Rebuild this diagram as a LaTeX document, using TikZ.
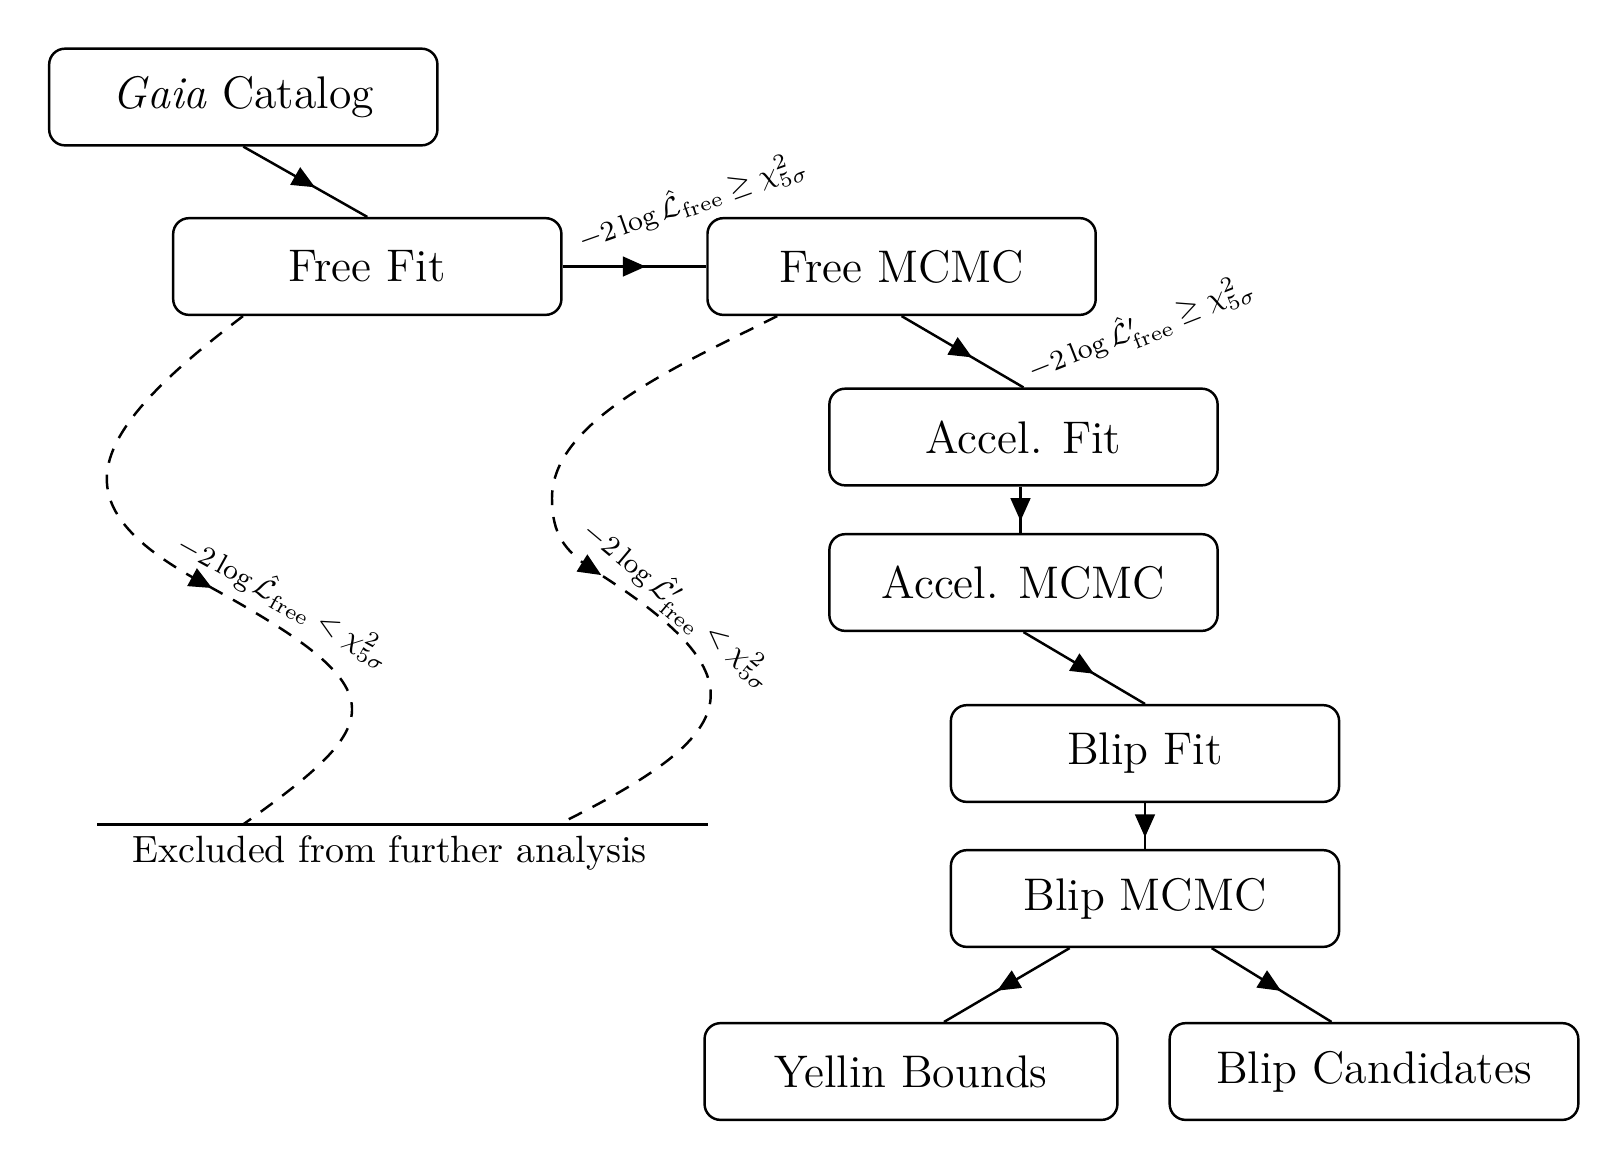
\documentclass[tikz,border=0pt]{standalone}
\usepackage{amsmath}
\usepackage{amssymb}
\usetikzlibrary{arrows.meta, calc, decorations.markings, positioning}

\tikzset{
  box/.style={draw, line width=0.7pt, rounded corners=4.5pt, minimum width=110.4pt,
    minimum height=27.5pt, inner sep=0pt, font=\fontsize{13}{15.5}\selectfont},
  midarrow/.style={postaction={decorate}, decoration={markings,
    mark=at position 0.5 with {\pgftransformxshift{3.2pt}\arrow{Triangle[length=6.5pt,width=5.6pt]}}}},
  edge/.style={line width=0.7pt, midarrow},
  cut/.style={edge, dash pattern=on 4.2pt off 3.4pt},
  cond/.style={font=\footnotesize, inner sep=1pt},
}

\begin{document}
\begin{tikzpicture}[x=0.01cm, y=-0.01cm]
  \useasboundingbox (0,0) rectangle (1620,1156);

  % pipeline boxes
  \node[box] (gaia) at (243.3,97) {\textit{Gaia} Catalog};
  \node[box] (freefit) at (367.3,266.5) {Free Fit};
  \node[box] (freemcmc) at (901.6,266.5) {Free MCMC};
  \node[box] (accelfit) at (1023.5,437) {Accel. Fit};
  \node[box] (accelmcmc) at (1023.5,582.5) {Accel. MCMC};
  \node[box] (blipfit) at (1145,753.5) {Blip Fit};
  \node[box] (blipmcmc) at (1145,898.5) {Blip MCMC};
  \node[box, minimum width=117.4pt] (yellin) at (911,1071.5) {Yellin Bounds};
  \node[box, minimum width=116.2pt] (blipcand) at (1374,1071.5) {Blip Candidates};

  % the cut line
  \coordinate (exL) at (97,824.5);
  \coordinate (exR) at (708,824.5);
  \coordinate (exA) at (243,824.5);
  \coordinate (exB) at (558,824.5);
  \draw[line width=0.7pt] (exL) -- (exR);
  \node[font=\fontsize{10.8}{12.5}\selectfont] (excl) at (389.5,853) {Excluded from further analysis};

  % solid edges
  \draw[edge] (gaia.south) -- (freefit.north);
  \draw[edge] (freefit.east) -- (freemcmc.west);
  \draw[edge] (freemcmc.south) -- (accelfit.north);
  \draw[edge] ($(accelfit.south)+(-3,0)$) -- ($(accelmcmc.north)+(-3,0)$);
  \draw[edge] (accelmcmc.south) -- (blipfit.north);
  \draw[edge] (blipfit.south) -- (blipmcmc.north);
  \draw[edge] ($(blipmcmc.south west)+(120,0)$) -- ($(yellin.north)+(33,0)$);
  \draw[edge] ($(blipmcmc.south west)+(262,0)$) -- ($(blipcand.north east)+(-248,0)$);

  % rejected branches
  \draw[cut] (freefit.south -| exA) .. controls (80,440) and (60,505) .. (201,582)
    .. controls (400,690) and (390,720) .. (exA);
  \draw[cut] ($(freemcmc.south west)+(71,0)$) .. controls (680,365) and (552,420) .. (552,498)
    .. controls (552,535) and (565,550) .. (590,568)
    .. controls (770,680) and (740,735) .. (exB);

  % conditions
  \node[cond, rotate=19.5] (c1) at (692,201.5) {$-2\log\hat{\mathcal{L}}_{\mathrm{free}}\geq\chi^2_{5\sigma}$};
  \node[cond, rotate=21.5] (c2) at (1141,328) {$-2\log\hat{\mathcal{L}}'_{\mathrm{free}}\geq\chi^2_{5\sigma}$};
  \node[cond, rotate=-29] (c3) at (285,600) {$-2\log\hat{\mathcal{L}}_{\mathrm{free}}<\chi^2_{5\sigma}$};
  \node[cond, rotate=-40] (c4) at (679,604) {$-2\log\hat{\mathcal{L}}'_{\mathrm{free}}<\chi^2_{5\sigma}$};
\end{tikzpicture}
\end{document}
